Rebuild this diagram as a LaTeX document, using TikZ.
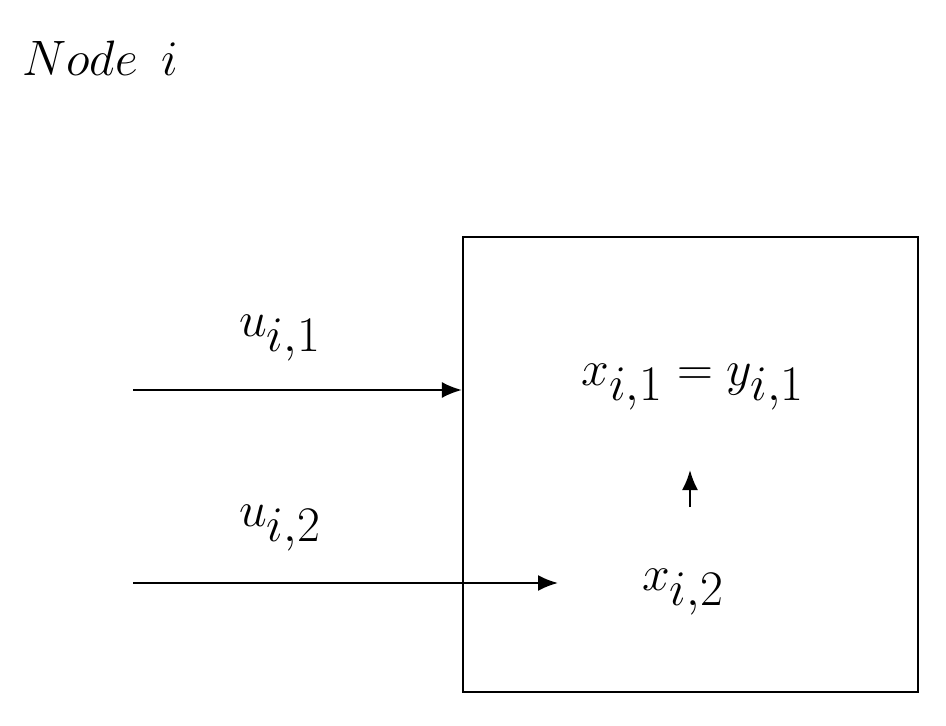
\documentclass[tikz,border=0pt]{standalone}
\usetikzlibrary{arrows.meta}
\begin{document}
\begin{tikzpicture}[x=0.5pt,y=-0.5pt,
  lbl/.style={inner sep=0pt,font=\fontsize{40}{48}\selectfont},
  arr/.style={line width=1.1pt,-{Latex[length=10pt,width=8pt]}}]
\useasboundingbox (0,0) rectangle (946,726);
\node[lbl,anchor=west] (title) at (22,58) {$Node\ i$};
\node[draw,line width=1.1pt,minimum width=227.5pt,minimum height=227.5pt,inner sep=0pt] (box) at (690.5,464.5) {};
\coordinate (s1) at (133,390);
\coordinate (s2) at (133,583);
\coordinate (e2) at (558,583);
\draw[arr] (s1) -- (s1 -| box.west);
\draw[arr] (s2) -- (e2);
\node[lbl] (u1) at (280,338) {$u_{i,1}$};
\node[lbl] (u2) at (280,528) {$u_{i,2}$};
\node[lbl] (x1) at (693,387) {$x_{i,1}=y_{i,1}$};
\node[lbl] (x2) at (683,592) {$x_{i,2}$};
\coordinate (a1) at (690,507);
\coordinate (a2) at (690,470);
\draw[arr] (a1) -- (a2);
\end{tikzpicture}
\end{document}
